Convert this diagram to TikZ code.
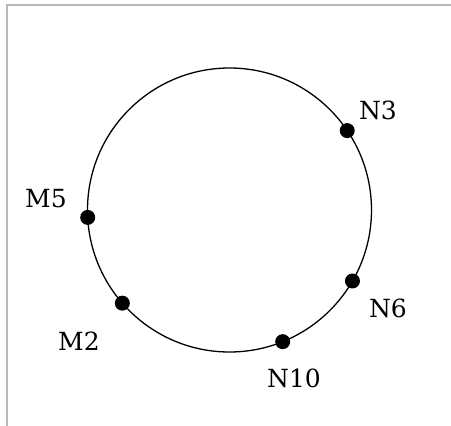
\documentclass[tikz,border=0pt]{standalone}
\usepackage{fontspec}
\setmainfont{DejaVu Serif}
\usepackage{tikz}
\usetikzlibrary{positioning}

\tikzset{
  ring/.style={circle,draw,line width=1.3pt,inner sep=0pt,outer sep=0pt,minimum size=284pt},
  dot/.style={circle,fill=black,inner sep=0pt,minimum size=15pt},
  tag/.style={inner sep=0pt,font=\fontsize{25}{28}\selectfont},
  frame/.style={draw=gray!55,line width=2pt}
}

\begin{document}
\begin{tikzpicture}[x=1pt,y=-1pt]
    \useasboundingbox (0,0) rectangle (451,426);
    \draw[frame] (451,5) -- (7,5) -- (7,426);
    \node[ring] (ring) at (229.5,210) {};
    % points on the ring
    \node[dot] (n3) at (ring.34) {};
    \node[dot] (m5) at (ring.183) {};
    \node[dot] (m2) at (ring.221) {};
    \node[dot] (n10) at (ring.292) {};
    \node[dot] (n6) at (ring.330) {};
    % names
    \node[tag] (n3name) at (378,110) {N3};
    \node[tag] (m5name) at (46,199) {M5};
    \node[tag] (m2name) at (79,341) {M2};
    \node[tag] (n10name) at (294,378) {N10};
    \node[tag] (n6name) at (388,308) {N6};
  \end{tikzpicture}
\end{document}
